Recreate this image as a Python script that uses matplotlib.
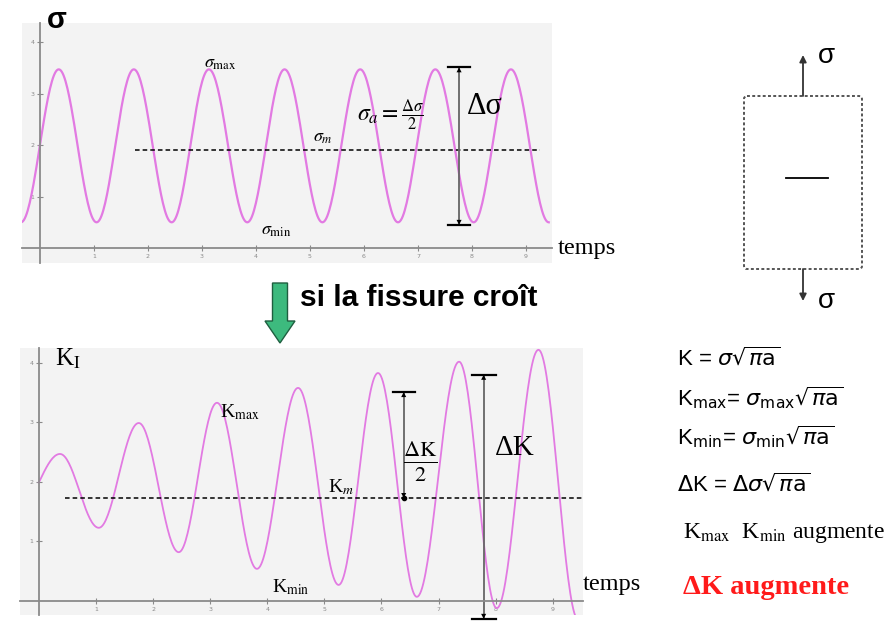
import numpy as np
import matplotlib.pyplot as plt
from matplotlib.patches import FancyArrow, FancyBboxPatch

# extremes of the stress signal (time, sigma)
sig_t = [-0.35, 0.35, 1.05, 1.74, 2.44, 3.13, 3.84, 4.53, 5.23, 5.93, 6.63, 7.32, 8.03, 8.72, 9.42]
sig_v = [0.5, 3.47, 0.5, 3.47, 0.5, 3.47, 0.5, 3.47, 0.5, 3.47, 0.5, 3.47, 0.5, 3.47, 0.5]
sig_mean = 1.9
sig_mean_span = [1.76, 9.26]

# extremes of the stress intensity factor (time, K)
k_t = [-0.35, 0.37, 1.05, 1.75, 2.45, 3.12, 3.82, 4.54, 5.25, 5.94, 6.62, 7.36, 8.02, 8.75, 9.45]
k_v = [1.55, 2.47, 1.23, 2.99, 0.82, 3.33, 0.54, 3.58, 0.27, 3.83, 0.07, 4.02, -0.12, 4.22, -0.32]
k_start = 0.0
k_mean = 1.73
k_mean_span = [0.45, 9.55]

xticks = [1, 2, 3, 4, 5, 6, 7, 8, 9]
yticks = [1, 2, 3, 4]

dsig = (7.76, 0.45, 3.51)      # x, low, high
dk_half = (6.39, 1.73, 3.51)
dk_full = (7.79, -0.30, 3.80)

CURVE = '#e27ae2'
SERIF = 'Liberation Serif'
SANS = 'Liberation Sans'


def wave(t_ext, v_ext, n=40):
    # smooth half-cosine pieces between successive extremes
    xs, ys = [], []
    for i in range(len(t_ext) - 1):
        s = np.linspace(0, 1, n)
        xs.append(t_ext[i] + (t_ext[i + 1] - t_ext[i]) * s)
        ys.append(v_ext[i] + (v_ext[i + 1] - v_ext[i]) * (1 - np.cos(np.pi * s)) / 2)
    return np.concatenate(xs), np.concatenate(ys)


def setup(ax, xlim, ylim):
    ax.set_facecolor('#f3f3f3')
    ax.set_xlim(*xlim)
    ax.set_ylim(*ylim)
    for s in ['top', 'right']:
        ax.spines[s].set_visible(False)
    for s in ['left', 'bottom']:
        ax.spines[s].set_position(('data', 0))
        ax.spines[s].set_color('#8a8a8a')
        ax.spines[s].set_linewidth(1.3)
    ax.set_xticks(xticks)
    ax.set_yticks(yticks)
    ax.tick_params(direction='inout', length=4, width=0.8, colors='#8a8a8a',
                   labelsize=4.5, pad=2)


def span(ax, x, lo, hi, cap, lo_cap=True, lo_head=True):
    ax.plot([x, x], [lo, hi], color='#666666', lw=1.3, clip_on=False)
    ax.plot([x - cap, x + cap], [hi, hi], color='k', lw=1.6, clip_on=False)
    if lo_cap:
        ax.plot([x - cap, x + cap], [lo, lo], color='k', lw=1.6, clip_on=False)
    ax.annotate('', xy=(x, hi), xytext=(x, hi - 0.25), annotation_clip=False,
                arrowprops=dict(arrowstyle='-|>', color='k', lw=0.01,
                                mutation_scale=9, shrinkA=0, shrinkB=0))
    if lo_head:
        ax.annotate('', xy=(x, lo), xytext=(x, lo + 0.25), annotation_clip=False,
                    arrowprops=dict(arrowstyle='-|>', color='k', lw=0.01,
                                    mutation_scale=9, shrinkA=0, shrinkB=0))


fig = plt.figure(figsize=(8.93, 6.25), dpi=100)

# overlay in pixel coordinates for the decorations
ov = fig.add_axes([0, 0, 1, 1])
ov.set_xlim(0, 893)
ov.set_ylim(625, 0)
ov.axis('off')

# ---- top chart: sigma(t)
ax1 = fig.add_axes([22 / 893, 1 - 263 / 625, 530 / 893, 240 / 625])
setup(ax1, (-0.33, 9.48), (-0.29, 4.37))
x, y = wave(sig_t, sig_v)
ax1.plot(x, y, color=CURVE, lw=1.6)
ax1.plot(sig_mean_span, [sig_mean, sig_mean], 'k--', lw=1.1, dashes=(3, 2))
span(ax1, dsig[0], dsig[1], dsig[2], 0.2)
ax1.text(0.13, 4.43, 'σ', fontsize=21, family=SANS, fontweight='bold',
         va='center', clip_on=False)
ax1.text(3.03, 3.6, r'$\sigma_{\max}$', fontsize=13, math_fontfamily='stix', va='center')
ax1.text(5.05, 2.16, r'$\sigma_{m}$', fontsize=13, math_fontfamily='stix', va='center')
ax1.text(4.1, 0.36, r'$\sigma_{\min}$', fontsize=13, math_fontfamily='stix', va='center')
ax1.text(5.87, 2.58, r'$\sigma_a = \frac{\Delta\sigma}{2}$', fontsize=17,
         math_fontfamily='stix', va='center')
ax1.text(7.9, 2.74, 'Δσ', fontsize=22, family=SERIF, va='center')
ax1.text(9.59, 0.0, 'temps', fontsize=17.5, family=SERIF, va='center', clip_on=False)

# ---- bottom chart: K(t)
ax2 = fig.add_axes([20 / 893, 1 - 615 / 625, 563 / 893, 267 / 625])
setup(ax2, (-0.33, 9.53), (-0.235, 4.25))
x, y = wave(k_t, k_v)
keep = x >= k_start
ax2.plot(x[keep], y[keep], color=CURVE, lw=1.3)
ax2.plot(k_mean_span, [k_mean, k_mean], 'k--', lw=1.1, dashes=(3, 2))
span(ax2, dk_half[0], dk_half[1], dk_half[2], 0.19, lo_cap=False)
ax2.plot([dk_half[0]], [dk_half[1]], 'ko', ms=3)
span(ax2, dk_full[0], dk_full[1], dk_full[2], 0.21)
ax2.text(0.28, 4.07, r'K$_{\mathrm{I}}$', fontsize=18, family=SERIF,
         math_fontfamily='stix', va='center')
ax2.text(3.17, 3.18, r'K$_{\max}$', fontsize=14, family=SERIF, math_fontfamily='stix', va='center')
ax2.text(5.06, 1.92, r'K$_{m}$', fontsize=14, family=SERIF, math_fontfamily='stix', va='center')
ax2.text(4.08, 0.24, r'K$_{\min}$', fontsize=14, family=SERIF, math_fontfamily='stix', va='center')
ax2.text(6.67, 2.34, r'$\frac{\Delta\mathrm{K}}{2}$', fontsize=23,
         math_fontfamily='stix', ha='center', va='center')
ax2.text(7.99, 2.57, 'ΔK', fontsize=21, family=SERIF, va='center')
ax2.text(9.53, 0.27, 'temps', fontsize=17.5, family=SERIF, va='center', clip_on=False)

# ---- green arrow + caption
ov.add_patch(FancyArrow(280, 283, 0, 60, width=15, head_width=30, head_length=22,
                        length_includes_head=True, fc='#3dba7e', ec='#1f5f40', lw=1))
ov.text(300, 298, 'si la fissure croît', fontsize=21.5, family=SANS,
        fontweight='bold', va='center')

# ---- specimen sketch
ov.add_patch(FancyBboxPatch((744, 96), 118, 173, boxstyle='round,pad=0,rounding_size=3',
                            fill=False, ec='#555555', lw=1.4, ls=(0, (1.5, 1.2))))
ov.plot([786, 828], [178, 178], color='k', lw=1.3)
ov.annotate('', xy=(803, 55), xytext=(803, 96),
            arrowprops=dict(arrowstyle='-|>', color='#333333', lw=1.3, mutation_scale=10,
                            shrinkA=0, shrinkB=0))
ov.annotate('', xy=(803, 301), xytext=(803, 269),
            arrowprops=dict(arrowstyle='-|>', color='#333333', lw=1.3, mutation_scale=10,
                            shrinkA=0, shrinkB=0))
ov.text(818, 56, 'σ', fontsize=20, family=SANS, va='center')
ov.text(818, 301, 'σ', fontsize=20, family=SANS, va='center')

# ---- formulas
fk = dict(fontsize=16, family=SANS, math_fontfamily='dejavusans', va='center')
ov.text(677, 358, r'K = $\sigma\sqrt{\pi\mathrm{a}}$', **fk)
ov.text(677, 398, r'K$_{\mathrm{max}}$= $\sigma_{\mathrm{max}}\sqrt{\pi\mathrm{a}}$', **fk)
ov.text(677, 437, r'K$_{\mathrm{min}}$= $\sigma_{\mathrm{min}}\sqrt{\pi\mathrm{a}}$', **fk)
ov.text(677, 484, r'$\Delta$K = $\Delta\sigma\sqrt{\pi\mathrm{a}}$', **fk)
ov.text(683, 533, r'K$_{\max}$  K$_{\min}$ augmente', fontsize=17, family=SERIF,
        math_fontfamily='stix', va='center')
ov.text(683, 588, 'ΔK augmente', fontsize=20.5, family=SERIF, fontweight='bold',
        color='#ff1a1a', va='center')

fig.savefig('out.png', dpi=100)
